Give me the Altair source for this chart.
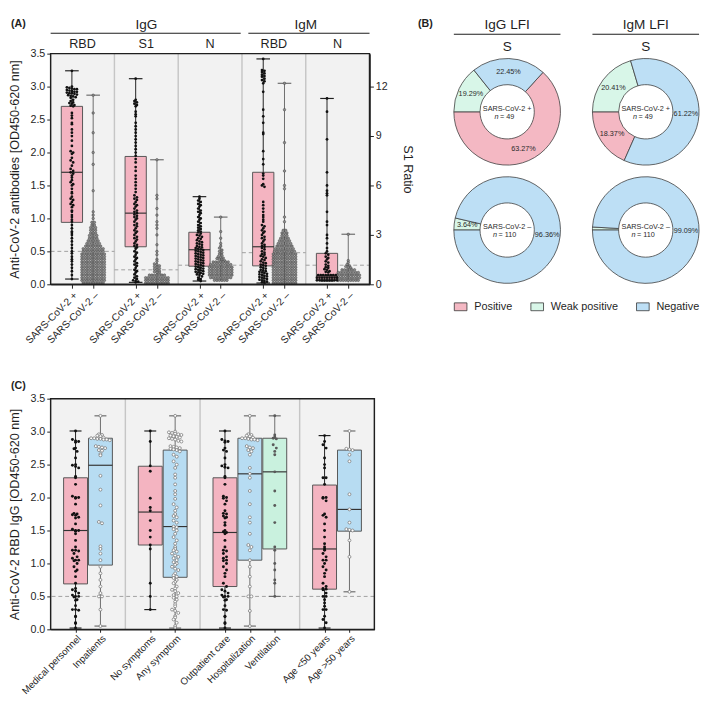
import math
import altair as alt
import pandas as pd

FONT = "Liberation Sans"
DARK = "#1f1f1f"
BG = "#f2f2f2"
SEP = "#c6c6c6"
CUT = "#9e9e9e"
PINK = "#f4b4c1"
BLUE = "#b7dcf2"
GREEN = "#c9f1de"
GREYLINE = "#6b6b6b"

# ================= Panel A data =================
A_ISOTYPES = ["IgG", "IgM"]
A_ISO_NBANDS = [3, 2]
A_ANTIGENS = ["RBD", "S1", "N", "RBD", "N"]
A_XLABELS = ["SARS-CoV-2 +", "SARS-CoV-2 \u2013"]
A_CUTOFF = [0.50, 0.22, 0.29, 0.48, 0.29]
A_POS_Q1 = [0.94, 0.57, 0.275, 0.28, 0.07]
A_POS_MED = [1.70, 1.08, 0.525, 0.57, 0.13]
A_POS_Q3 = [2.70, 1.94, 0.79, 1.70, 0.47]
A_POS_MIN = [0.08, 0.03, 0.05, 0.02, 0.05]
A_POS_MAX = [3.24, 3.12, 1.33, 3.42, 2.82]
A_NEG_MIN = [0.00, 0.00, 0.05, 0.00, 0.03]
A_NEG_MAX = [2.87, 1.89, 1.02, 3.05, 0.76]
A_RATIO_TICKS = [0, 3, 6, 9, 12]
A_RATIO_MAX = 14.0

IGG_RBD_POS = [3.24, 3.0, 2.99, 2.98, 2.97, 2.96, 2.96, 2.95, 2.94, 2.93, 2.92, 2.92, 2.91, 2.9, 2.9,
               2.89, 2.88, 2.87, 2.86, 2.85, 2.84, 2.83, 2.8, 2.78, 2.76, 2.75, 2.74, 2.72, 2.71, 2.7,
               2.6, 2.56, 2.52, 2.45, 2.43, 2.35, 2.3, 2.25, 2.18, 2.1, 2.02, 2.0, 1.98, 1.92, 1.88,
               1.85, 1.8, 1.75, 1.72, 1.7, 1.68, 1.65, 1.62, 1.58, 1.55, 1.52, 1.5, 1.45, 1.4, 1.38,
               1.33, 1.3, 1.28, 1.25, 1.22, 1.2, 1.17, 1.12, 1.1, 1.05, 1.02, 0.98, 0.95, 0.9, 0.85,
               0.8, 0.78, 0.75, 0.7, 0.65, 0.6, 0.55, 0.5, 0.47, 0.42, 0.38, 0.35, 0.3, 0.25, 0.2,
               0.14, 0.08]
IGG_S1_POS = [3.12, 2.8, 2.78, 2.76, 2.74, 2.72, 2.7, 2.62, 2.58, 2.55, 2.45, 2.4, 2.35, 2.3, 2.25,
              2.2, 2.15, 2.1, 2.05, 2.0, 1.95, 1.9, 1.85, 1.78, 1.72, 1.65, 1.6, 1.55, 1.5, 1.45,
              1.4, 1.35, 1.32, 1.3, 1.28, 1.25, 1.22, 1.2, 1.18, 1.15, 1.12, 1.1, 1.08, 1.06, 1.04,
              1.02, 1.0, 0.98, 0.95, 0.92, 0.9, 0.88, 0.85, 0.82, 0.8, 0.78, 0.75, 0.72, 0.7, 0.68,
              0.65, 0.62, 0.6, 0.58, 0.56, 0.54, 0.5, 0.48, 0.45, 0.42, 0.4, 0.38, 0.35, 0.32, 0.3,
              0.28, 0.25, 0.22, 0.2, 0.18, 0.15, 0.12, 0.1, 0.08, 0.06, 0.05, 0.04, 0.03]
IGG_N_POS = [1.33, 1.3, 1.27, 1.25, 1.22, 1.2, 1.18, 1.15, 1.12, 1.1, 1.08, 1.05, 1.02, 1.0, 0.98,
             0.95, 0.93, 0.9, 0.88, 0.86, 0.84, 0.82, 0.8, 0.79, 0.77, 0.75, 0.74, 0.72, 0.7, 0.69,
             0.67, 0.65, 0.64, 0.62, 0.61, 0.6, 0.58, 0.57, 0.56, 0.55, 0.54, 0.53, 0.52, 0.51, 0.5,
             0.49, 0.48, 0.47, 0.46, 0.45, 0.44, 0.43, 0.42, 0.41, 0.4, 0.39, 0.38, 0.37, 0.36, 0.35,
             0.34, 0.33, 0.32, 0.31, 0.3, 0.29, 0.28, 0.27, 0.26, 0.25, 0.24, 0.23, 0.22, 0.21, 0.2,
             0.19, 0.18, 0.17, 0.16, 0.15, 0.14, 0.12, 0.1, 0.08, 0.07, 0.05]
IGM_RBD_POS = [3.42, 3.25, 3.24, 3.22, 3.2, 3.18, 3.16, 3.15, 3.12, 3.1, 3.08, 3.05, 2.92, 2.65, 2.55,
               2.45, 2.3, 2.28, 2.02, 1.9, 1.82, 1.68, 1.65, 1.6, 1.52, 1.5, 1.48, 1.25, 1.2, 1.15,
               1.1, 1.05, 1.02, 0.98, 0.95, 0.9, 0.88, 0.85, 0.82, 0.8, 0.78, 0.75, 0.72, 0.7, 0.68,
               0.65, 0.62, 0.6, 0.58, 0.57, 0.55, 0.53, 0.5, 0.48, 0.46, 0.45, 0.43, 0.42, 0.4, 0.38,
               0.37, 0.35, 0.33, 0.32, 0.3, 0.29, 0.28, 0.26, 0.25, 0.24, 0.22, 0.21, 0.2, 0.19, 0.18,
               0.17, 0.16, 0.15, 0.14, 0.13, 0.12, 0.11, 0.1, 0.09, 0.08, 0.07, 0.06, 0.05, 0.04, 0.03,
               0.02]
IGM_N_POS = [2.82, 2.62, 2.2, 1.7, 1.5, 1.42, 1.38, 1.35, 1.1, 0.95, 0.9, 0.75, 0.7, 0.62, 0.55, 0.5,
             0.47, 0.45, 0.42, 0.4, 0.38, 0.35, 0.33, 0.3, 0.28, 0.26, 0.25, 0.23, 0.22, 0.2, 0.19, 0.18]
IGM_N_POS_LEVELS = [0.06, 0.10, 0.14]
IGM_N_POS_COUNTS = [9, 9, 8]

IGG_RBD_NEG = [2.87, 2.6, 2.3, 2.0, 1.82, 1.42, 1.1, 1.05, 1.0]
IGG_RBD_NEG_LEVELS = [0.02, 0.06, 0.10, 0.14, 0.18, 0.22, 0.26, 0.30, 0.34, 0.38, 0.42, 0.46, 0.50,
                      0.54, 0.58, 0.62, 0.66, 0.70, 0.74, 0.78, 0.82, 0.86, 0.90, 0.94]
IGG_RBD_NEG_COUNTS = [9, 10, 10, 10, 10, 10, 10, 10, 10, 10, 10, 10, 9, 9, 7, 6, 5, 4, 4, 3, 3, 3, 2, 2]
IGG_S1_NEG = [1.89, 1.35, 1.3, 1.15, 1.05, 0.95, 0.9, 0.85, 0.75, 0.6, 0.5, 0.45, 0.38, 0.35, 0.31,
              0.3, 0.28, 0.27, 0.26, 0.24, 0.23, 0.22, 0.2, 0.19, 0.18, 0.17]
IGG_S1_NEG_LEVELS = [0.02, 0.06, 0.10, 0.14]
IGG_S1_NEG_COUNTS = [10, 10, 10, 7]
IGG_N_NEG = [1.02, 0.8, 0.7, 0.62, 0.58, 0.55, 0.52, 0.5, 0.48, 0.46, 0.44, 0.42, 0.41, 0.4, 0.39,
             0.38, 0.37, 0.36]
IGG_N_NEG_LEVELS = [0.06, 0.10, 0.14, 0.18, 0.22, 0.26, 0.30, 0.34]
IGG_N_NEG_COUNTS = [6, 9, 10, 10, 10, 10, 9, 7]
IGM_RBD_NEG = [3.05, 2.65, 2.15, 1.72, 1.5, 1.45, 1.02, 0.95]
IGM_RBD_NEG_LEVELS = [0.02, 0.06, 0.10, 0.14, 0.18, 0.22, 0.26, 0.30, 0.34, 0.38, 0.42, 0.46, 0.50,
                      0.54, 0.58, 0.62, 0.66, 0.70, 0.74, 0.78, 0.82]
IGM_RBD_NEG_COUNTS = [10, 10, 10, 10, 10, 10, 10, 10, 10, 10, 10, 10, 9, 8, 7, 6, 5, 4, 3, 3, 2]
IGM_N_NEG = [0.76, 0.36, 0.33, 0.3, 0.28, 0.27, 0.26, 0.25]
IGM_N_NEG_LEVELS = [0.06, 0.10, 0.14, 0.18, 0.22]
IGM_N_NEG_COUNTS = [9, 10, 10, 9, 6]

A_POS_SETS = [(IGG_RBD_POS, [], []), (IGG_S1_POS, [], []), (IGG_N_POS, [], []),
              (IGM_RBD_POS, [], []), (IGM_N_POS, IGM_N_POS_LEVELS, IGM_N_POS_COUNTS)]
A_NEG_SETS = [(IGG_RBD_NEG, IGG_RBD_NEG_LEVELS, IGG_RBD_NEG_COUNTS),
              (IGG_S1_NEG, IGG_S1_NEG_LEVELS, IGG_S1_NEG_COUNTS),
              (IGG_N_NEG, IGG_N_NEG_LEVELS, IGG_N_NEG_COUNTS),
              (IGM_RBD_NEG, IGM_RBD_NEG_LEVELS, IGM_RBD_NEG_COUNTS),
              (IGM_N_NEG, IGM_N_NEG_LEVELS, IGM_N_NEG_COUNTS)]

# ================= Panel B data =================
DONUT_CATS = ["Positive", "Weak positive", "Negative"]
DONUT_COLORS = ["#f4b8c3", "#d8f6e8", "#bddff5"]
IGG_POS_SHARE = [63.27, 14.29, 22.45]
IGG_POS_LABELS = ["63.27%", "19.29%", "22.45%"]
IGM_POS_SHARE = [18.37, 20.41, 61.22]
IGM_POS_LABELS = ["18.37%", "20.41%", "61.22%"]
IGG_NEG_SHARE = [0.0, 3.64, 96.36]
IGG_NEG_LABELS = ["", "3.64%", "96.36%"]
IGM_NEG_SHARE = [0.0, 0.91, 99.09]
IGM_NEG_LABELS = ["", "", "99.09%"]
B_HEADERS = ["IgG LFI", "IgM LFI"]
B_ANTIGEN = "S"
B_GROUPS = ["SARS-CoV-2 +", "SARS-CoV-2 \u2013"]
B_N = ["49", "110"]

# ================= Panel C data =================
C_NAMES = ["Medical personnel", "Inpatients", "No symptoms", "Any symptom", "Outpatient care",
           "Hospitalization", "Ventilation", "Age <50 years", "Age >50 years"]
C_POS = [1, 2, 4, 5, 7, 8, 9, 11, 12]
C_SEPS = [3, 6, 10]
C_XMAX = 13
C_KIND = ["pink", "blue", "pink", "blue", "pink", "blue", "green", "pink", "blue"]
C_CUTOFF = 0.5
C_Q1 = [0.69, 0.975, 1.28, 0.79, 0.65, 1.05, 1.22, 0.61, 1.49]
C_MED = [1.50, 2.49, 1.78, 1.56, 1.47, 2.36, 2.39, 1.22, 1.82]
C_Q3 = [2.30, 2.90, 2.475, 2.72, 2.30, 2.90, 2.90, 2.19, 2.72]
C_MIN = [0.02, 0.05, 0.30, 0.02, 0.02, 0.05, 0.50, 0.02, 0.57]
C_MAX = [3.01, 3.24, 3.01, 3.24, 3.01, 3.24, 3.24, 2.94, 3.01]

MED_PERS = [3.01, 2.88, 2.86, 2.85, 2.84, 2.75, 2.74, 2.7, 2.6, 2.5, 2.49, 2.47, 2.45, 2.32, 2.3, 2.2,
            2.02, 2.0, 2.0, 1.99, 1.9, 1.76, 1.75, 1.74, 1.73, 1.7, 1.69, 1.6, 1.52, 1.5, 1.5, 1.49,
            1.45, 1.35, 1.25, 1.2, 1.2, 1.19, 1.15, 1.1, 1.08, 1.05, 1.05, 1.04, 1.0, 0.95, 0.9, 0.88,
            0.8, 0.7, 0.62, 0.6, 0.58, 0.55, 0.52, 0.5, 0.5, 0.49, 0.45, 0.44, 0.36, 0.3, 0.3, 0.29,
            0.2, 0.19, 0.1, 0.09, 0.02]
INPATIENTS = [3.24, 2.96, 2.95, 2.94, 2.93, 2.91, 2.9, 2.9, 2.89, 2.89, 2.88, 2.88, 2.87, 2.78, 2.77,
              2.76, 2.75, 2.72, 2.71, 2.66, 2.64, 2.33, 2.12, 1.88, 1.63, 1.61, 1.26, 1.22, 1.15, 1.05,
              0.95, 0.85, 0.75, 0.65, 0.55, 0.5, 0.5, 0.3, 0.05]
NO_SYM = [3.01, 2.85, 2.48, 2.4, 1.99, 1.85, 1.8, 1.65, 1.5, 1.4, 1.28, 1.22, 0.7, 0.5, 0.3]
ANY_SYM = [3.24, 3.0, 2.99, 2.98, 2.97, 2.96, 2.95, 2.94, 2.93, 2.92, 2.91, 2.9, 2.89, 2.88, 2.86,
           2.85, 2.78, 2.77, 2.76, 2.75, 2.74, 2.73, 2.72, 2.7, 2.65, 2.62, 2.55, 2.5, 2.45, 2.35,
           2.3, 2.2, 2.1, 2.05, 1.98, 1.9, 1.85, 1.8, 1.75, 1.72, 1.7, 1.65, 1.62, 1.56, 1.55, 1.52,
           1.5, 1.45, 1.4, 1.35, 1.3, 1.25, 1.22, 1.2, 1.18, 1.15, 1.12, 1.1, 1.08, 1.05, 1.02, 1.0,
           0.98, 0.95, 0.92, 0.9, 0.85, 0.82, 0.8, 0.78, 0.75, 0.72, 0.7, 0.65, 0.62, 0.6, 0.58,
           0.55, 0.52, 0.5, 0.48, 0.45, 0.42, 0.38, 0.35, 0.3, 0.28, 0.25, 0.2, 0.18, 0.15, 0.1,
           0.05, 0.02]
OUTPAT = [3.01, 2.88, 2.86, 2.85, 2.84, 2.75, 2.72, 2.7, 2.6, 2.5, 2.48, 2.46, 2.45, 2.32, 2.3, 2.2,
          2.02, 2.0, 1.99, 1.95, 1.9, 1.8, 1.76, 1.75, 1.72, 1.7, 1.69, 1.62, 1.58, 1.5, 1.48, 1.47,
          1.45, 1.35, 1.25, 1.2, 1.19, 1.15, 1.1, 1.08, 1.05, 1.04, 1.0, 0.95, 0.9, 0.85, 0.8, 0.7,
          0.65, 0.6, 0.58, 0.55, 0.52, 0.5, 0.5, 0.49, 0.45, 0.44, 0.36, 0.3, 0.29, 0.2, 0.19, 0.1,
          0.09, 0.02]
HOSP = [3.24, 2.96, 2.95, 2.94, 2.93, 2.91, 2.9, 2.9, 2.89, 2.88, 2.88, 2.87, 2.78, 2.76, 2.75, 2.72,
        2.7, 2.65, 2.45, 2.36, 2.3, 2.1, 1.9, 1.7, 1.62, 1.45, 1.28, 1.25, 1.2, 1.05, 0.95, 0.8, 0.65,
        0.5, 0.5, 0.28, 0.05]
VENT = [3.24, 2.95, 2.92, 2.9, 2.89, 2.8, 2.75, 2.7, 2.65, 2.39, 2.1, 1.88, 1.62, 1.25, 1.2, 1.0,
        0.9, 0.75, 0.7, 0.5]
AGE_LT50 = [2.94, 2.85, 2.8, 2.75, 2.6, 2.5, 2.45, 2.3, 2.3, 2.2, 2.0, 2.0, 1.99, 1.95, 1.75, 1.73,
            1.7, 1.6, 1.5, 1.4, 1.3, 1.25, 1.22, 1.2, 1.15, 1.1, 1.05, 1.05, 1.0, 0.95, 0.9, 0.85,
            0.8, 0.7, 0.65, 0.62, 0.61, 0.6, 0.55, 0.5, 0.5, 0.45, 0.4, 0.35, 0.3, 0.3, 0.2, 0.15,
            0.1, 0.02]
AGE_GT50 = [3.01, 2.74, 2.73, 2.72, 2.65, 2.55, 2.05, 1.82, 1.62, 1.52, 1.51, 1.5, 1.35, 1.1, 0.57]
C_VALUES = [MED_PERS, INPATIENTS, NO_SYM, ANY_SYM, OUTPAT, HOSP, VENT, AGE_LT50, AGE_GT50]

# ================= helpers =================
one = pd.DataFrame({"k": [0]})


def label_expr(positions, labels, xmax):
    arr = [""] * (xmax + 1)
    for p, l in zip(positions, labels):
        arr[p] = l
    return "[" + ",".join(repr(s) for s in arr) + "][datum.value]"


def swarm(ch, step, spacing):
    return (ch.transform_calculate(b=f"floor(datum.v / {step})")
              .transform_joinaggregate(n="count()", groupby=["g", "b"])
              .transform_window(r="row_number()", groupby=["g", "b"])
              .transform_calculate(xs=f"datum.pos + (datum.r - (datum.n + 1) / 2) * {spacing}"))


def y_axis(title):
    return alt.Axis(values=[0, 0.5, 1, 1.5, 2, 2.5, 3, 3.5], format=".1f", title=title, grid=False,
                    domainColor=DARK, domainWidth=1.5, tickColor=DARK, tickSize=4, labelFont=FONT,
                    labelFontSize=11, labelColor=DARK, labelPadding=2, titleFont=FONT, titleFontSize=13,
                    titleFontWeight="normal", titleColor=DARK, titlePadding=9)


# ================= Panel A =================
W_A, H_A = 329, 238
NB = len(A_ANTIGENS)
A_XMAX = 3 * NB
a_ticks = [3 * i + j for i in range(NB) for j in (1, 2)]
a_tick_labels = [A_XLABELS[(t % 3) - 1] for t in a_ticks]
XA_SCALE = alt.Scale(domain=[0, A_XMAX], nice=False, zero=False)
YA_SCALE = alt.Scale(domain=[0, 3.5], nice=False)
XA_AXIS = alt.Axis(values=a_ticks, labelExpr=label_expr(a_ticks, a_tick_labels, A_XMAX), labelAngle=-45,
                   labelOverlap=False, labelBound=False,
                   title=None, grid=False, domainColor=DARK, domainWidth=1.5, tickColor=DARK, tickSize=4,
                   labelFont=FONT, labelFontSize=10.5, labelColor=DARK, labelPadding=2)
YA_AXIS = y_axis("Anti-CoV-2 antibodies [OD450-620 nm]")


def XA(f):
    return alt.X(f, type="quantitative", scale=XA_SCALE, axis=XA_AXIS)


def YA(f):
    return alt.Y(f, type="quantitative", scale=YA_SCALE, axis=YA_AXIS)


pts_rows = []
for i in range(NB):
    for kind, sets, off in (("pos", A_POS_SETS, 1), ("neg", A_NEG_SETS, 2)):
        vals, levels, counts = sets[i]
        for v in vals:
            pts_rows.append({"g": f"{kind}{i}", "pos": 3 * i + off, "v": v, "kind": kind})
        for lv, c in zip(levels, counts):
            for _ in range(c):
                pts_rows.append({"g": f"{kind}{i}", "pos": 3 * i + off, "v": lv, "kind": kind})
a_pts = pd.DataFrame(pts_rows)

a_box = pd.DataFrame({"pos": [3 * i + 1 for i in range(NB)], "q1": A_POS_Q1, "med": A_POS_MED, "q3": A_POS_Q3})
wh_rows, cap_rows = [], []
for i in range(NB):
    wh_rows.append({"pos": 3 * i + 1, "lo": A_POS_MIN[i], "hi": A_POS_MAX[i], "col": DARK})
    wh_rows.append({"pos": 3 * i + 2, "lo": A_NEG_MIN[i], "hi": A_NEG_MAX[i], "col": GREYLINE})
    cap_rows += [{"pos": 3 * i + 1, "y": A_POS_MIN[i], "col": DARK},
                 {"pos": 3 * i + 1, "y": A_POS_MAX[i], "col": DARK},
                 {"pos": 3 * i + 2, "y": A_NEG_MAX[i], "col": GREYLINE}]
a_wh = pd.DataFrame(wh_rows)
a_cap = pd.DataFrame(cap_rows)

iso_rows = []
start = 0
for name, nb in zip(A_ISOTYPES, A_ISO_NBANDS):
    end = start + nb
    iso_rows.append({"t": name, "xc": 1.5 * (start + end),
                     "x0": 3 * start + (0.3 if start > 0 else 0.0),
                     "x1": 3 * end - (0.06 if end < NB else 0.0)})
    start = end
iso_df = pd.DataFrame(iso_rows)
ant_df = pd.DataFrame({"t": A_ANTIGENS, "xc": [3 * i + 1.5 for i in range(NB)]})
cut_df = pd.DataFrame({"x0": [3 * i for i in range(NB)], "x1": [3 * i + 3 for i in range(NB)], "y": A_CUTOFF})
sep_df = pd.DataFrame({"x": [3 * i for i in range(1, NB)]})

bgA = alt.Chart(one).mark_rect(color=BG).encode(x=alt.value(0), x2=alt.value(W_A), y=alt.value(0), y2=alt.value(H_A))
sepA = alt.Chart(sep_df).mark_rule(color=SEP, strokeWidth=1.5).encode(x=XA("x"))
cutA = alt.Chart(cut_df).mark_rule(color=CUT, strokeWidth=1, strokeDash=[4, 3]).encode(
    x=XA("x0"), x2=alt.X2("x1"), y=YA("y"))
whA = alt.Chart(a_wh).mark_rule(strokeWidth=1).encode(
    x=XA("pos"), y=YA("lo"), y2=alt.Y2("hi"), color=alt.Color("col:N", scale=None))
capA = alt.Chart(a_cap).transform_calculate(x0="datum.pos - 0.32", x1="datum.pos + 0.32").mark_rule(
    strokeWidth=1.2).encode(x=XA("x0"), x2=alt.X2("x1"), y=YA("y"), color=alt.Color("col:N", scale=None))
box_base = alt.Chart(a_box).transform_calculate(x0="datum.pos - 0.5", x1="datum.pos + 0.5")
boxA = box_base.mark_rect(fill=PINK, stroke="#555555", strokeWidth=1).encode(
    x=XA("x0"), x2=alt.X2("x1"), y=YA("q1"), y2=alt.Y2("q3"))
medA = box_base.mark_rule(color="#333333", strokeWidth=1.2).encode(x=XA("x0"), x2=alt.X2("x1"), y=YA("med"))
ptsA_neg = swarm(alt.Chart(a_pts).transform_filter("datum.kind == 'neg'"), 0.04, 0.118).mark_circle(
    size=7, color="#8a8a8a", stroke="#2e2e2e", strokeWidth=0.4, opacity=1).encode(x=XA("xs"), y=YA("v"))
ptsA_pos = swarm(alt.Chart(a_pts).transform_filter("datum.kind == 'pos'"), 0.04, 0.118).mark_circle(
    size=8, color="#111111", opacity=1).encode(x=XA("xs"), y=YA("v"))
frameA = alt.Chart(one).mark_rect(fillOpacity=0, stroke=DARK, strokeWidth=1.5).encode(
    x=alt.value(0), x2=alt.value(W_A), y=alt.value(0), y2=alt.value(H_A))
isoTxt = alt.Chart(iso_df).mark_text(fontSize=14, color=DARK).encode(x=XA("xc"), y=alt.value(-29), text="t:N")
isoLine = alt.Chart(iso_df).mark_rule(color=DARK, strokeWidth=1.2).encode(
    x=XA("x0"), x2=alt.X2("x1"), y=alt.value(-21))
antTxt = alt.Chart(ant_df).mark_text(fontSize=13, color=DARK).encode(x=XA("xc"), y=alt.value(-10), text="t:N")
labA = alt.Chart(one).mark_text(text="(A)", fontSize=11, fontWeight="bold", align="left", color=DARK).encode(
    x=alt.value(-41), y=alt.value(-30))
labB = alt.Chart(one).mark_text(text="(B)", fontSize=11, fontWeight="bold", align="left", color=DARK).encode(
    x=alt.value(379), y=alt.value(-30))

mainA = alt.layer(bgA, sepA, cutA, whA, capA, boxA, medA, ptsA_neg, ptsA_pos, frameA,
                  isoTxt, isoLine, antTxt, labA, labB)
rightA = alt.Chart(one).mark_rule(opacity=0).encode(
    y=alt.Y("k:Q", scale=alt.Scale(domain=[0, A_RATIO_MAX], nice=False),
            axis=alt.Axis(orient="right", values=A_RATIO_TICKS, title="S1 Ratio", grid=False,
                          domainColor=DARK, domainWidth=1.5, tickColor=DARK, tickSize=4, labelFont=FONT,
                          labelFontSize=11, labelColor=DARK, labelPadding=2, titleFont=FONT,
                          titleFontSize=13, titleFontWeight="normal", titleColor=DARK, titlePadding=14)))
panelA = alt.layer(mainA, rightA).resolve_scale(y="independent").properties(width=W_A, height=H_A)

# ================= Panel B =================
D = 110
R_OUT, R_IN = 55, 28


def donut(shares, labels, group, n, header=None, height=D):
    start = math.radians(270 - 3.6 * shares[0])
    cy = height / 2
    df = pd.DataFrame({"cat": DONUT_CATS, "v": shares, "lab": labels, "o": [0, 1, 2], "col": DONUT_COLORS})
    df = df[df["v"] > 0]
    theta = alt.Theta("v:Q", stack=True,
                      scale=alt.Scale(domain=[0, 100], range=[start, start + 2 * math.pi]))
    base = alt.Chart(df).encode(theta=theta, order=alt.Order("o:Q"), detail="cat:N")
    arcs = base.mark_arc(innerRadius=R_IN, outerRadius=R_OUT, stroke="#3c3c3c", strokeWidth=0.8).encode(
        fill=alt.Fill("col:N", scale=None))
    txt = base.mark_text(radius=41.5, fontSize=7.5, color="#2a2a2a").encode(text="lab:N")
    c1 = alt.Chart(one).mark_text(text=group, fontSize=7.5, color="#2a2a2a").encode(
        x=alt.value(D / 2), y=alt.value(cy - 3))
    c2 = alt.Chart(one).mark_text(text="n", fontSize=7.5, fontStyle="italic", align="right",
                                  color="#2a2a2a").encode(x=alt.value(D / 2 - 6 - 1.5 * len(n)),
                                                          y=alt.value(cy + 5.5))
    c3 = alt.Chart(one).mark_text(text="= " + n, fontSize=7.5, align="left", color="#2a2a2a").encode(
        x=alt.value(D / 2 - 4.5 - 1.5 * len(n)), y=alt.value(cy + 5.5))
    layers = [arcs, txt, c1, c2, c3]
    if header is not None:
        layers.append(alt.Chart(one).mark_text(text=header, fontSize=14, color=DARK).encode(
            x=alt.value(D / 2), y=alt.value(-29)))
        layers.append(alt.Chart(one).mark_rule(color=DARK, strokeWidth=1.2).encode(
            x=alt.value(0), x2=alt.value(D), y=alt.value(-20)))
        layers.append(alt.Chart(one).mark_text(text=B_ANTIGEN, fontSize=14, color=DARK).encode(
            x=alt.value(D / 2), y=alt.value(-7)))
    return alt.layer(*layers).properties(width=D, height=height)


d1 = donut(IGG_POS_SHARE, IGG_POS_LABELS, B_GROUPS[0], B_N[0], B_HEADERS[0], height=D + 10)
d2 = donut(IGM_POS_SHARE, IGM_POS_LABELS, B_GROUPS[0], B_N[0], B_HEADERS[1], height=D + 10)
d3 = donut(IGG_NEG_SHARE, IGG_NEG_LABELS, B_GROUPS[1], B_N[1])
d4 = donut(IGM_NEG_SHARE, IGM_NEG_LABELS, B_GROUPS[1], B_N[1])
rowTop = alt.hconcat(d1, d2, spacing=29).resolve_scale(theta="independent")
rowBot = alt.hconcat(d3, d4, spacing=29).resolve_scale(theta="independent")
donuts = alt.vconcat(rowTop, rowBot, spacing=5).resolve_scale(theta="independent")

legend_view = alt.Chart(pd.DataFrame({"cat": DONUT_CATS})).mark_square(
    opacity=0, stroke="#333333", strokeWidth=0.8).encode(
    fill=alt.Fill("cat:N", scale=alt.Scale(domain=DONUT_CATS, range=DONUT_COLORS),
                  legend=alt.Legend(orient="none", legendX=0, legendY=0, direction="horizontal", title=None,
                                    symbolType="M-1,-0.62H1V0.62H-1Z", symbolSize=170, symbolOpacity=1,
                                    symbolStrokeColor="#333333", symbolStrokeWidth=0.8, labelFont=FONT,
                                    labelFontSize=11.2, labelColor=DARK, labelOffset=7, columnPadding=16,
                                    padding=0))).properties(width=200, height=1)

panelB = alt.vconcat(donuts, legend_view, spacing=12).resolve_scale(
    theta="independent", fill="independent")

# ================= Panel C =================
W_C, H_C = 334, 238
XC_SCALE = alt.Scale(domain=[0, C_XMAX], nice=False, zero=False)
XC_AXIS = alt.Axis(values=C_POS, labelExpr=label_expr(C_POS, C_NAMES, C_XMAX), labelAngle=-45, title=None,
                   labelOverlap=False, labelBound=False,
                   grid=False, domainColor=DARK, domainWidth=1.5, tickColor=DARK, tickSize=3, labelFont=FONT,
                   labelFontSize=10, labelColor=DARK, labelPadding=1)
YC_AXIS = y_axis("Anti-CoV-2 RBD IgG [OD450-620 nm]")


def XC(f):
    return alt.X(f, type="quantitative", scale=XC_SCALE, axis=XC_AXIS)


def YC(f):
    return alt.Y(f, type="quantitative", scale=YA_SCALE, axis=YC_AXIS)


fill_map = {"pink": PINK, "blue": BLUE, "green": GREEN}
line_map = {"pink": DARK, "blue": GREYLINE, "green": GREYLINE}
c_box = pd.DataFrame({"pos": C_POS, "q1": C_Q1, "med": C_MED, "q3": C_Q3, "lo": C_MIN, "hi": C_MAX,
                      "fillc": [fill_map[k] for k in C_KIND], "linec": [line_map[k] for k in C_KIND]})
c_caps = pd.concat([c_box.assign(y=c_box["lo"]), c_box.assign(y=c_box["hi"])])
c_rows = []
for i, vals in enumerate(C_VALUES):
    for v in vals:
        c_rows.append({"g": f"c{i}", "pos": C_POS[i], "v": v, "kind": C_KIND[i]})
c_pts = pd.DataFrame(c_rows)

bgC = alt.Chart(one).mark_rect(color=BG).encode(x=alt.value(0), x2=alt.value(W_C), y=alt.value(0), y2=alt.value(H_C))
sepC = alt.Chart(pd.DataFrame({"x": C_SEPS})).mark_rule(color=SEP, strokeWidth=1.5).encode(x=XC("x"))
cutC = alt.Chart(pd.DataFrame({"y": [C_CUTOFF]})).mark_rule(color=CUT, strokeWidth=1, strokeDash=[4, 3]).encode(
    y=YC("y"))
whC = alt.Chart(c_box).mark_rule(strokeWidth=1).encode(
    x=XC("pos"), y=YC("lo"), y2=alt.Y2("hi"), color=alt.Color("linec:N", scale=None))
capC = alt.Chart(c_caps).transform_calculate(x0="datum.pos - 0.24", x1="datum.pos + 0.24").mark_rule(
    strokeWidth=1.2).encode(x=XC("x0"), x2=alt.X2("x1"), y=YC("y"), color=alt.Color("linec:N", scale=None))
cbox_base = alt.Chart(c_box).transform_calculate(x0="datum.pos - 0.48", x1="datum.pos + 0.48")
boxC = cbox_base.mark_rect(stroke="#555555", strokeWidth=1).encode(
    x=XC("x0"), x2=alt.X2("x1"), y=YC("q1"), y2=alt.Y2("q3"), fill=alt.Fill("fillc:N", scale=None))
medC = cbox_base.mark_rule(color="#333333", strokeWidth=1.2).encode(x=XC("x0"), x2=alt.X2("x1"), y=YC("med"))
ptsC_pink = swarm(alt.Chart(c_pts).transform_filter("datum.kind == 'pink'"), 0.05, 0.125).mark_circle(
    size=9, color="#111111", opacity=1).encode(x=XC("xs"), y=YC("v"))
ptsC_blue = swarm(alt.Chart(c_pts).transform_filter("datum.kind == 'blue'"), 0.05, 0.125).mark_point(
    size=9, fill="white", stroke="#7a7a7a", strokeWidth=0.8, filled=False, opacity=1, fillOpacity=1).encode(
    x=XC("xs"), y=YC("v"))
ptsC_green = swarm(alt.Chart(c_pts).transform_filter("datum.kind == 'green'"), 0.05, 0.125).mark_circle(
    size=9, color="#5a5a5a", opacity=1).encode(x=XC("xs"), y=YC("v"))
frameC = alt.Chart(one).mark_rect(fillOpacity=0, stroke=DARK, strokeWidth=1.5).encode(
    x=alt.value(0), x2=alt.value(W_C), y=alt.value(0), y2=alt.value(H_C))
labC = alt.Chart(one).mark_text(text="(C)", fontSize=11, fontWeight="bold", align="left", color=DARK).encode(
    x=alt.value(-41), y=alt.value(-13))

panelC = alt.layer(bgC, sepC, cutC, whC, capC, boxC, medC, ptsC_pink, ptsC_blue, ptsC_green, frameC,
                   labC).properties(width=W_C, height=H_C)

# ================= assemble =================
row1 = alt.hconcat(panelA, panelB, spacing=19).resolve_scale(theta="independent", fill="independent")
chart = alt.vconcat(row1, panelC, spacing=35).resolve_scale(
    theta="independent", fill="independent").properties(padding=0).configure(font=FONT).configure_view(stroke=None)

chart.save("out.html", embed_options={"renderer": "svg", "actions": False})
